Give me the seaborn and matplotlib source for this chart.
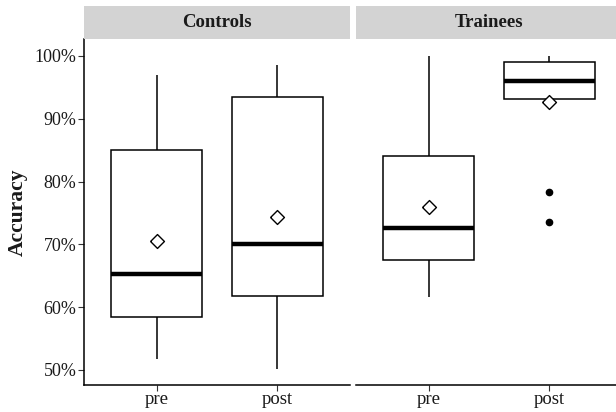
import matplotlib
matplotlib.use("Agg")
import matplotlib.pyplot as plt
import matplotlib.patches as mpatches
from matplotlib.ticker import FuncFormatter
import numpy as np
import pandas as pd
import seaborn as sns

# Accuracy (%) per participant, by group and session
controls_pre = [51.7, 55.0, 58.4, 62.0, 65.2, 70.0, 85.1, 90.2, 96.9]
controls_post = [50.1, 56.0, 61.7, 66.0, 70.0, 78.0, 93.4, 95.8, 98.6]
trainees_pre = [61.6, 65.0, 67.5, 70.0, 72.6, 78.0, 84.0, 85.3, 100.0]
trainees_post = [73.5, 78.4, 93.1, 95.6, 96.0, 98.8, 99.0, 99.9, 100.0]

groups = ["Controls", "Trainees"]
sessions = ["pre", "post"]
y_ticks = [50, 60, 70, 80, 90, 100]

records = []
for grp, pre, post in [("Controls", controls_pre, controls_post),
                       ("Trainees", trainees_pre, trainees_post)]:
    for sess, vals in [("pre", pre), ("post", post)]:
        for v in vals:
            records.append({"group": grp, "session": sess, "accuracy": v})
df = pd.DataFrame(records)

sns.set_theme(style="white")
plt.rcParams["font.family"] = ["Liberation Serif", "DejaVu Serif"]

W, H = 616, 412
fig = plt.figure(figsize=(W / 100, H / 100), dpi=100)

panel_top, panel_bottom = 39, 385
panel_w = 266
lefts = [84, 356]
strip_top = 6

text_col = "#1a1a1a"

# diamond outline for the group means
diamond = [(-1.0, 0.0), (0.0, 1.0), (1.0, 0.0), (0.0, -1.0), (-1.0, 0.0)]

for i, grp in enumerate(groups):
    ax = fig.add_axes([lefts[i] / W, (H - panel_bottom) / H,
                       panel_w / W, (panel_bottom - panel_top) / H])
    sub = df[df["group"] == grp]
    sns.boxplot(
        data=sub, x="session", y="accuracy", order=sessions, ax=ax,
        width=0.75, color="white", linecolor="black", linewidth=1.1,
        showcaps=False, showmeans=True,
        medianprops=dict(color="black", linewidth=3.2),
        whiskerprops=dict(color="black", linewidth=1.1),
        boxprops=dict(facecolor="white", edgecolor="black", linewidth=1.1),
        meanprops=dict(marker=diamond, markerfacecolor="white",
                       markeredgecolor="black", markersize=10,
                       markeredgewidth=1.0),
        flierprops=dict(marker="o", markerfacecolor="black",
                        markeredgecolor="black", markersize=4.5),
    )
    ax.set_xlim(-0.6, 1.6)
    ax.set_ylim(47.6, 102.7)
    ax.set_xlabel("")
    for s in ["top", "right"]:
        ax.spines[s].set_visible(False)
    ax.spines["bottom"].set_color("black")
    ax.spines["bottom"].set_linewidth(1.1)
    ax.tick_params(axis="x", bottom=True, length=4, width=0.8,
                   color="#333333", labelsize=13.5, labelcolor=text_col, pad=0)
    if i == 0:
        ax.spines["left"].set_color("black")
        ax.spines["left"].set_linewidth(1.1)
        ax.set_yticks(y_ticks)
        ax.yaxis.set_major_formatter(FuncFormatter(lambda v, p: f"{v:.0f}%"))
        ax.tick_params(axis="y", left=True, length=4, width=0.8,
                       color="#333333", labelsize=13, labelcolor=text_col,
                       pad=1.5)
        ax.set_ylabel("Accuracy", fontsize=15.5, fontweight="bold",
                      color=text_col, labelpad=5)
    else:
        ax.spines["left"].set_visible(False)
        ax.set_yticks(y_ticks)
        ax.tick_params(axis="y", left=False, labelleft=False)
        ax.set_ylabel("")
    ax.grid(False)

    # facet strip
    fig.patches.append(mpatches.Rectangle(
        (lefts[i] / W, (H - panel_top) / H), panel_w / W,
        (panel_top - strip_top) / H, transform=fig.transFigure,
        facecolor="#d3d3d3", edgecolor="none", zorder=0))
    fig.text((lefts[i] + panel_w / 2) / W, (H - (panel_top + strip_top) / 2) / H,
             grp, ha="center", va="center", fontsize=13.5, fontweight="bold",
             color=text_col)

fig.savefig("out.png", dpi=100, facecolor="white")
